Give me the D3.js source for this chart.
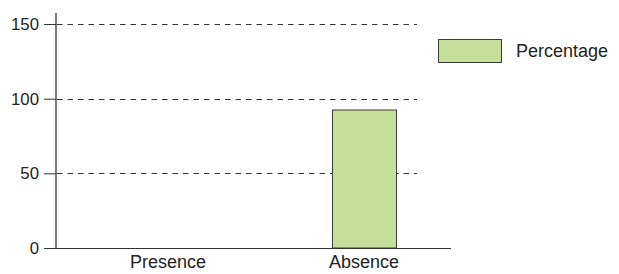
<!DOCTYPE html>
<html><head><meta charset="utf-8">
<script src="https://cdn.jsdelivr.net/npm/d3@7"></script>
<style>body{margin:0;background:#fff}svg{display:block}text{font-family:"Liberation Sans",Arial,sans-serif}</style>
</head><body>
<svg id="c" width="619" height="274"></svg>
<script>
const categories = ["Presence", "Absence"];
const percentage = [0, 92.4];
const yTicks = [0, 50, 100, 150];
const seriesName = "Percentage";

const svg = d3.select("#c");
const axisColor = "#333";
const barFill = "#c5df9b";

const y = d3.scaleLinear().domain([0, 150]).range([248, 24]);
const x = d3.scaleBand().domain(categories).range([70, 462]).paddingInner(0.673).paddingOuter(0.3365);

// gridlines
svg.append("g").selectAll("line").data(yTicks.filter(d => d > 0)).join("line")
  .attr("x1", 57).attr("x2", 417)
  .attr("y1", d => Math.round(y(d)) + 0.5).attr("y2", d => Math.round(y(d)) + 0.5)
  .attr("stroke", axisColor).attr("stroke-width", 1).attr("stroke-dasharray", "5.5,5");

// bars
svg.append("g").selectAll("rect").data(categories).join("rect")
  .attr("x", d => x(d) + 0.5)
  .attr("width", x.bandwidth())
  .attr("y", (d, i) => y(percentage[i]))
  .attr("height", (d, i) => y(0) - y(percentage[i]))
  .attr("fill", barFill).attr("stroke", "#3a3a3a").attr("stroke-width", 1)
  .attr("display", (d, i) => percentage[i] > 0 ? null : "none");

// y axis
const yAxis = svg.append("g").attr("transform", "translate(56,0)")
  .call(d3.axisLeft(y).tickValues(yTicks).tickSize(12).tickPadding(5));
yAxis.select(".domain").remove();
yAxis.selectAll(".tick line").attr("stroke", axisColor);
yAxis.selectAll(".tick text").attr("font-size", 16.8).attr("fill", "#222")
  .attr("font-family", '"Liberation Sans",Arial,sans-serif');
svg.append("line").attr("x1", 56).attr("x2", 56).attr("y1", 13).attr("y2", y(0) + 0.5)
  .attr("stroke", axisColor).attr("stroke-width", 1.3);

// x axis
svg.append("line").attr("x1", 56).attr("x2", 451).attr("y1", Math.round(y(0)) + 0.5).attr("y2", Math.round(y(0)) + 0.5)
  .attr("stroke", axisColor).attr("stroke-width", 1.2);
svg.append("g").selectAll("text").data(categories).join("text")
  .attr("x", d => x(d) + x.bandwidth() / 2).attr("y", 268)
  .attr("text-anchor", "middle").attr("font-size", 18).attr("fill", "#222")
  .text(d => d);

// legend
const lg = svg.append("g");
lg.append("rect").attr("x", 438.5).attr("y", 39.5).attr("width", 63).attr("height", 23)
  .attr("fill", barFill).attr("stroke", "#3a3a3a");
lg.append("text").attr("x", 516).attr("y", 57).attr("font-size", 18).attr("fill", "#222").text(seriesName);
</script>
</body></html>
